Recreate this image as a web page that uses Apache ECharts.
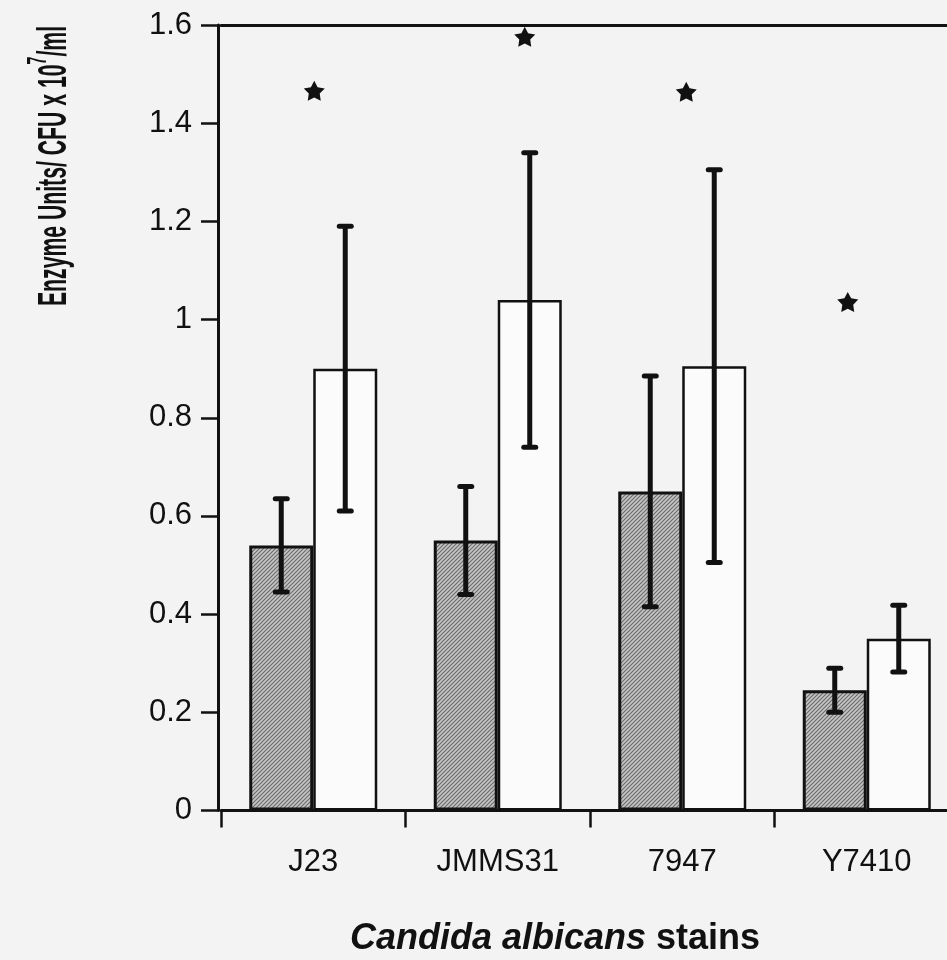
<!DOCTYPE html>
<html>
<head>
<meta charset="utf-8">
<script src="https://cdn.jsdelivr.net/npm/echarts@6/dist/echarts.min.js"></script>
<style>
  html, body { margin: 0; padding: 0; background: #f3f3f3; }
  #chart { width: 947px; height: 960px; }
</style>
</head>
<body>
<div id="chart"></div>
<script>
// Strains on the category axis
const strains = ['J23', 'JMMS31', '7947', 'Y7410'];

// Hatched bars: mean enzyme units and error half-width
const hatchedMeans = [0.54, 0.55, 0.65, 0.245];
const hatchedErr = [0.095, 0.11, 0.235, 0.045];

// Open bars: mean enzyme units and error half-width
const openMeans = [0.90, 1.04, 0.905, 0.35];
const openErr = [0.29, 0.30, 0.40, 0.068];

// Height of the significance asterisk for each strain
const starLevels = [1.466, 1.576, 1.464, 1.036];

// Value axis range and step
const yMin = 0;
const yMax = 1.6;
const yStep = 0.2;

// ---- layout / style constants ----
const BAR_W = 64;
const starShift = [1, 27, 4, -19];   // horizontal nudge of each asterisk, px
const INK = '#111111';
const FONT = "'Liberation Sans', Arial, sans-serif";

// Diagonal hatch used for the first series
function hatchPattern() {
  const s = 4;
  const c = document.createElement('canvas');
  c.width = s; c.height = s;
  const g = c.getContext('2d');
  g.fillStyle = '#c6c6c6';
  g.fillRect(0, 0, s, s);
  g.strokeStyle = '#6c6c6c';
  g.lineWidth = 1.2;
  g.beginPath();
  g.moveTo(0, s); g.lineTo(s, 0);
  g.moveTo(-1, 1); g.lineTo(1, -1);
  g.moveTo(s - 1, s + 1); g.lineTo(s + 1, s - 1);
  g.stroke();
  return c;
}

// Five-armed asterisk outline as an svg path
function starPath() {
  const pts = [];
  for (let k = 0; k < 10; k++) {
    const r = k % 2 === 0 ? 10 : 5.2;
    const a = -Math.PI / 2 + k * Math.PI / 5;
    pts.push((10 + r * Math.cos(a)).toFixed(2) + ' ' + (10 + r * Math.sin(a)).toFixed(2));
  }
  return 'path://M' + pts.join(' L') + ' Z';
}

// Error bars drawn at the centre of each bar of a series
function errorBars(means, errs, shift) {
  return {
    type: 'custom',
    xAxisIndex: 0,
    yAxisIndex: 0,
    z: 5,
    silent: true,
    data: means.map((m, i) => [i, m - errs[i], m + errs[i]]),
    renderItem(params, api) {
      const lo = api.coord([api.value(0), api.value(1)]);
      const hi = api.coord([api.value(0), api.value(2)]);
      const x = lo[0] + shift;
      const cap = 6;
      const st = { stroke: INK, lineWidth: 5, lineCap: 'round' };
      return {
        type: 'group',
        children: [
          { type: 'line', shape: { x1: x, y1: hi[1], x2: x, y2: lo[1] }, style: { stroke: INK, lineWidth: 5 } },
          { type: 'line', shape: { x1: x - cap, y1: hi[1], x2: x + cap, y2: hi[1] }, style: st },
          { type: 'line', shape: { x1: x - cap, y1: lo[1], x2: x + cap, y2: lo[1] }, style: st }
        ]
      };
    }
  };
}

const chart = echarts.init(document.getElementById('chart'), null, { renderer: 'canvas' });

chart.setOption({
  backgroundColor: '#f3f3f3',
  animation: false,
  grid: {
    left: 221, width: 738, top: 25, bottom: 149.5,
    containLabel: false,
    outerBoundsMode: 'none'
  },
  xAxis: [
    {
      type: 'category',
      data: strains,
      axisLine: { show: true, lineStyle: { color: INK, width: 3 } },
      axisTick: { show: true, length: 17, lineStyle: { color: INK, width: 2.5 } },
      axisLabel: { color: INK, fontSize: 31, fontFamily: FONT, margin: 36 },
      splitLine: { show: false }
    },
    {
      type: 'category',
      data: strains,
      position: 'top',
      axisLine: { show: true, lineStyle: { color: INK, width: 3 } },
      axisTick: { show: false },
      axisLabel: { show: false }
    }
  ],
  yAxis: {
    type: 'value',
    min: yMin,
    max: yMax,
    interval: yStep,
    offset: 3,
    axisLine: { show: true, lineStyle: { color: INK, width: 3 } },
    axisTick: { show: true, length: 17, lineStyle: { color: INK, width: 2.5 } },
    axisLabel: { color: INK, fontSize: 31, fontFamily: FONT, margin: 26 },
    splitLine: { show: false }
  },
  series: [
    {
      name: 'hatched',
      type: 'bar',
      data: hatchedMeans,
      barWidth: BAR_W,
      barGap: '0%',
      itemStyle: {
        color: { image: hatchPattern(), repeat: 'repeat' },
        borderColor: INK,
        borderWidth: 3
      }
    },
    {
      name: 'open',
      type: 'bar',
      data: openMeans,
      barWidth: BAR_W,
      barGap: '0%',
      itemStyle: { color: '#fbfbfb', borderColor: INK, borderWidth: 2.5 }
    },
    errorBars(hatchedMeans, hatchedErr, -BAR_W / 2),
    errorBars(openMeans, openErr, BAR_W / 2),
    {
      name: 'significance',
      type: 'scatter',
      symbol: starPath(),
      symbolSize: [21, 20],
      itemStyle: { color: INK, opacity: 1 },
      z: 6,
      data: starLevels.map((v, i) => ({ value: [i, v], symbolOffset: [starShift[i], 0] }))
    }
  ],
  graphic: [
    {
      type: 'text',
      x: 50,
      y: 166,
      rotation: Math.PI / 2,
      scaleX: 0.53,
      style: {
        text: '{m|Enzyme Units/ CFU x 10}{s|7}{m|/ml}',
        align: 'center',
        verticalAlign: 'middle',
        fill: INK,
        rich: {
          m: { fontSize: 40, fontWeight: 'bold', fontFamily: FONT, fill: INK, lineHeight: 50, verticalAlign: 'bottom' },
          s: { fontSize: 27, fontWeight: 'bold', fontFamily: FONT, fill: INK, lineHeight: 50, verticalAlign: 'top' }
        }
      }
    },
    {
      type: 'text',
      x: 555,
      y: 939,
      style: {
        text: '{i|Candida albicans }{b|stains}',
        align: 'center',
        verticalAlign: 'middle',
        fill: INK,
        rich: {
          i: { fontSize: 36, fontWeight: 'bold', fontStyle: 'italic', fontFamily: FONT, fill: INK },
          b: { fontSize: 36, fontWeight: 'bold', fontFamily: FONT, fill: INK }
        }
      }
    }
  ]
});
</script>
</body>
</html>
